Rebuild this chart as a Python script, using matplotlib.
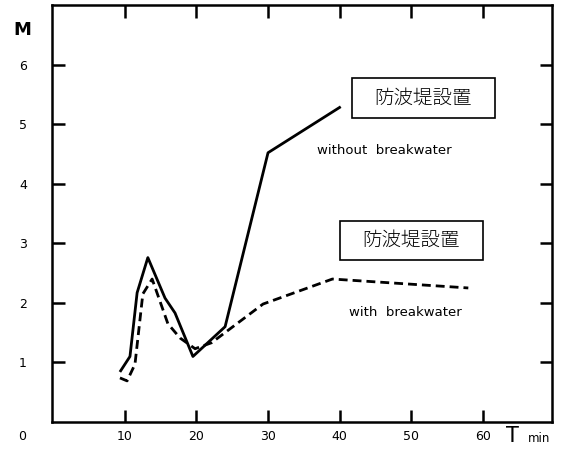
import matplotlib.pyplot as plt
from matplotlib.patches import Rectangle

plt.rcParams['font.family'] = ['DejaVu Sans', 'Noto Sans CJK JP']

# without breakwater (solid)
t_without = [9.4, 10.7, 11.7, 13.2, 15.6, 17.0, 19.5, 24.0, 30.0, 40.0]
m_without = [0.86, 1.10, 2.17, 2.76, 2.08, 1.83, 1.10, 1.60, 4.52, 5.28]

# with breakwater (dashed)
t_with = [9.3, 10.3, 11.4, 12.5, 13.8, 16.0, 17.7, 19.8, 22.1, 29.3, 39.0, 58.0]
m_with = [0.74, 0.69, 0.97, 2.15, 2.40, 1.65, 1.41, 1.23, 1.33, 1.98, 2.40, 2.25]

xticks = [10, 20, 30, 40, 50, 60]
yticks = [1, 2, 3, 4, 5, 6]
box_label = '防波堤設置'

W, H = 565, 459
fig = plt.figure(figsize=(W / 100, H / 100), dpi=100)
ax = fig.add_axes([52 / W, 1 - 422 / H, 500 / W, 417 / H])

ax.plot(t_without, m_without, color='black', lw=2.0)
ax.plot(t_with, m_with, color='black', lw=2.0, ls=(0, (3.2, 1.8)))

ax.set_xlim(-0.2, 69.7)
ax.set_ylim(0, 7.0)
ax.set_xticks(xticks)
ax.set_yticks(yticks)
ax.set_xticklabels([str(v) for v in xticks], fontsize=9)
ax.set_yticklabels([str(v) for v in yticks], fontsize=9)
ax.tick_params(direction='in', length=9, width=1.8, top=True, right=True)
ax.tick_params(axis='x', pad=6)
ax.tick_params(axis='y', pad=18)
for s in ax.spines.values():
    s.set_linewidth(1.8)

ax.text(46.3, 4.55, 'without  breakwater', fontsize=9.5, ha='center', va='center')
ax.text(49.2, 1.83, 'with  breakwater', fontsize=9.5, ha='center', va='center')

# corner labels
fig.text(22 / W, 1 - 437 / H, '0', fontsize=9, ha='center', va='center')
fig.text(22 / W, 1 - 30 / H, 'M', fontsize=13, fontweight='bold', ha='center', va='center')
fig.text(506 / W, 1 - 436 / H, 'T', fontsize=15, ha='left', va='center')
fig.text(528 / W, 1 - 439 / H, 'min', fontsize=8.5, ha='left', va='center')

# annotation boxes
for x0, y0, x1, y1 in [(352, 78, 495, 118), (340, 221, 483, 260)]:
    fig.patches.append(Rectangle((x0 / W, 1 - y1 / H), (x1 - x0) / W, (y1 - y0) / H,
                                 transform=fig.transFigure, fill=False,
                                 ec='black', lw=1.2))
    fig.text((x0 + x1) / 2 / W, 1 - (y0 + y1) / 2 / H, box_label,
             family=['Noto Sans CJK JP'], fontsize=14, fontweight='light',
             ha='center', va='center')

fig.savefig('out.png', dpi=100)
